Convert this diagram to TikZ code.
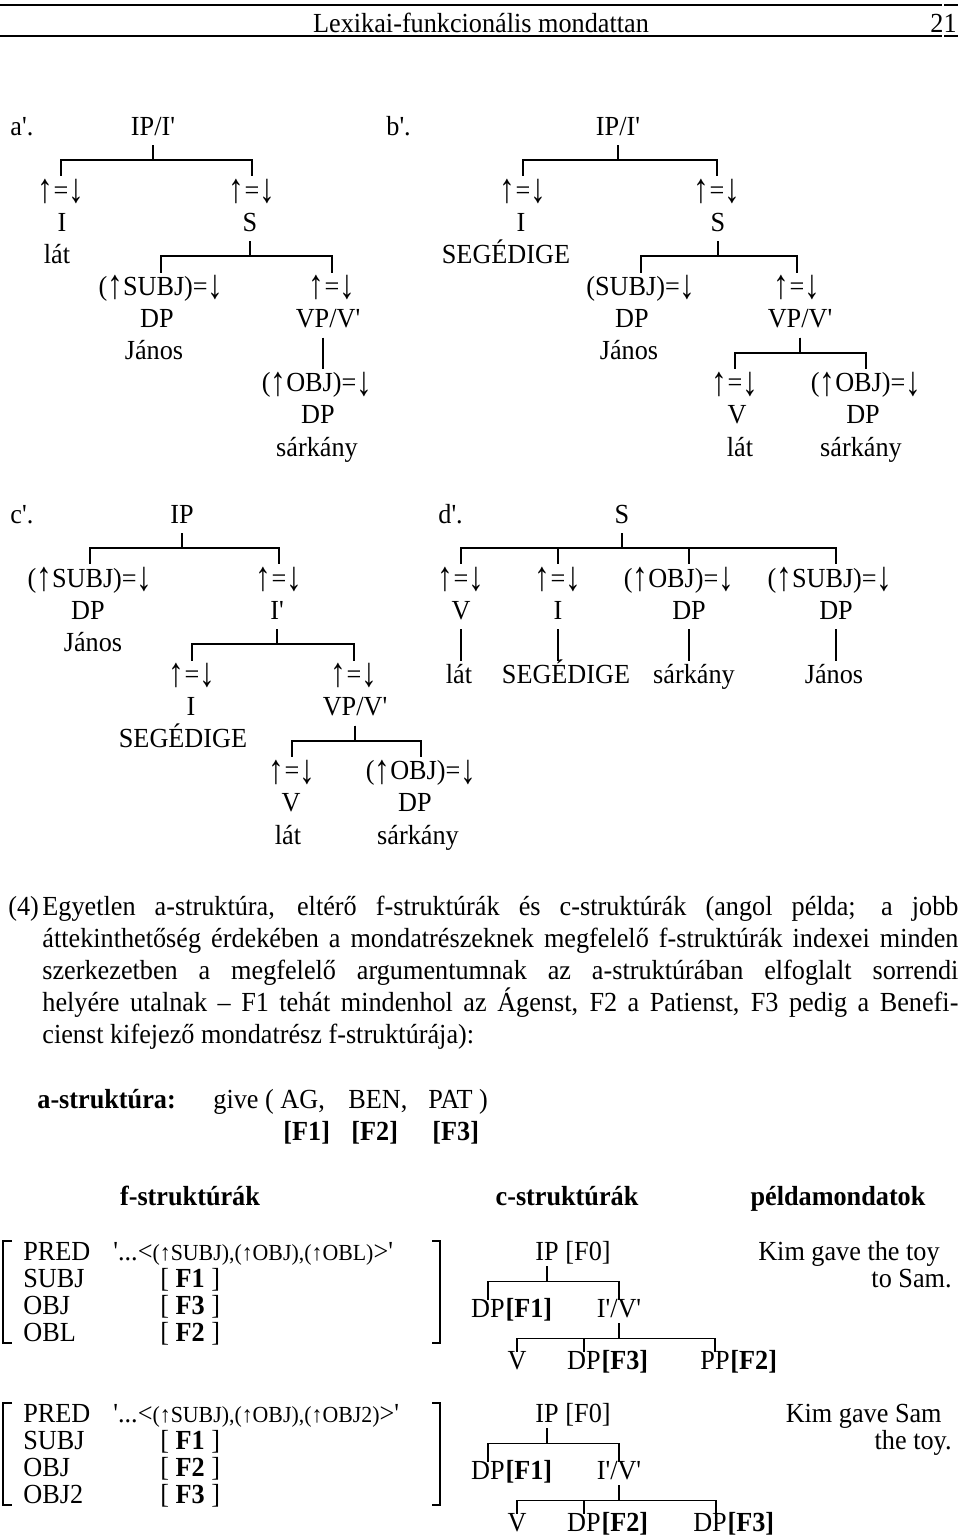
\documentclass[tikz,border=0pt]{standalone}
\usepackage{fontspec}
\usepackage{graphicx}
\setmainfont{Liberation Serif}[FakeStretch=0.95,Ligatures=TeXOff]
\usepackage{tikz}
\usetikzlibrary{positioning}
\AtBeginDocument{\fontsize{13.8pt}{16pt}\selectfont}
\tikzset{
  lbl/.style={anchor=base,inner sep=0pt},
  tnode/.style={anchor=base,inner sep=0pt,outer ysep=2pt,text height=9.5pt,text depth=3pt},
  cnode/.style={anchor=base,inner sep=0pt,text height=8.5pt,text depth=3pt},
  branch/.style={line width=0.9pt},
  bracket/.style={line width=0.7pt}
}
\newcommand\smallargs{\fontsize{11.5pt}{12pt}\selectfont}
\newcommand\ua{\raisebox{-0.12em}{\scalebox{1.2}[1.5]{↑}}}
\newcommand\da{\raisebox{-0.12em}{\scalebox{1.2}[1.5]{↓}}}

\begin{document}
\begin{tikzpicture}[x=0.5pt,y=-0.5pt]
\fill[white] (0,0) rectangle (960,1536);
\useasboundingbox (0,0) rectangle (960,1536);

\node[lbl] (title) at (481,33) {Lexikai-funkcionális mondattan};
\node[lbl,anchor=base east] (pageno) at (957,33) {21};
\draw[line width=0.75pt] (0,5) -- (942,5) (944,5) -- (958,5);
\draw[line width=1pt] (0,36.5) -- (942,36.5) (944,36.5) -- (958,36.5);

\node[lbl,anchor=base west] (aLab) at (10,135) {a'.};
\node[tnode] (aIP) at (153,135) {IP/I'};
\node[tnode] (aIeq) at (61,199.2) {\ua=\da};
\node[tnode] (aI) at (62,231.3) {I};
\node[tnode] (aIlex) at (57,263.4) {lát};
\node[tnode] (aSeq) at (252,199.2) {\ua=\da};
\node[tnode] (aS) at (250,231.3) {S};
\node[tnode] (aSubj) at (161,295.5) {(\ua SUBJ)=\da};
\node[tnode] (aDPs) at (157,327.6) {DP};
\node[tnode] (aDPslex) at (154,359.7) {János};
\node[tnode] (aVPeq) at (332,295.5) {\ua=\da};
\node[tnode] (aVP) at (328,327.6) {VP/V'};
\node[tnode] (aObj) at (317,391.8) {(\ua OBJ)=\da};
\node[tnode] (aDPo) at (318,423.9) {DP};
\node[tnode] (aDPolex) at (317,456) {sárkány};
\foreach \c in {aIeq,aSeq} \draw[branch] (aIP.south) -- ++(0,15) -| (\c.north);
\foreach \c in {aSubj,aVPeq} \draw[branch] (aS.south) -- ++(0,15) -| (\c.north);
\draw[branch] ([xshift=-2.5pt]aVP.south) -- ([xshift=-2.5pt]aVP.south |- aObj.north);

\node[lbl,anchor=base west] (bLab) at (386,135) {b'.};
\node[tnode] (bIP) at (618,135) {IP/I'};
\node[tnode] (bIeq) at (523,199.2) {\ua=\da};
\node[tnode] (bI) at (521,231.3) {I};
\node[tnode] (bIlex) at (506,263.4) {SEGÉDIGE};
\node[tnode] (bSeq) at (717,199.2) {\ua=\da};
\node[tnode] (bS) at (718,231.3) {S};
\node[tnode] (bSubj) at (641,295.5) {(SUBJ)=\da};
\node[tnode] (bDPs) at (632,327.6) {DP};
\node[tnode] (bDPslex) at (629,359.7) {János};
\node[tnode] (bVPeq) at (797,295.5) {\ua=\da};
\node[tnode] (bVP) at (800,327.6) {VP/V'};
\node[tnode] (bVeq) at (735,391.8) {\ua=\da};
\node[tnode] (bV) at (737,423.9) {V};
\node[tnode] (bVlex) at (740,456) {lát};
\node[tnode] (bObj) at (866,391.8) {(\ua OBJ)=\da};
\node[tnode] (bDPo) at (863,423.9) {DP};
\node[tnode] (bDPolex) at (861,456) {sárkány};
\foreach \c in {bIeq,bSeq} \draw[branch] (bIP.south) -- ++(0,15) -| (\c.north);
\foreach \c in {bSubj,bVPeq} \draw[branch] (bS.south) -- ++(0,15) -| (\c.north);
\foreach \c in {bVeq,bObj} \draw[branch] (bVP.south) -- ++(0,15) -| (\c.north);

\node[lbl,anchor=base west] (cLab) at (10,523) {c'.};
\node[tnode] (cIP) at (182,523) {IP};
\node[tnode] (cSubj) at (90,587.2) {(\ua SUBJ)=\da};
\node[tnode] (cDPs) at (88,619.3) {DP};
\node[tnode] (cDPslex) at (93,651.4) {János};
\node[tnode] (cIbareq) at (279,587.2) {\ua=\da};
\node[tnode] (cIbar) at (277,619.3) {I'};
\node[tnode] (cIeq) at (192,683.5) {\ua=\da};
\node[tnode] (cI) at (191,715.6) {I};
\node[tnode] (cIlex) at (183,747.7) {SEGÉDIGE};
\node[tnode] (cVPeq) at (354,683.5) {\ua=\da};
\node[tnode] (cVP) at (355,715.6) {VP/V'};
\node[tnode] (cVeq) at (292,779.8) {\ua=\da};
\node[tnode] (cV) at (291,811.9) {V};
\node[tnode] (cVlex) at (288,844) {lát};
\node[tnode] (cObj) at (421,779.8) {(\ua OBJ)=\da};
\node[tnode] (cDPo) at (415,811.9) {DP};
\node[tnode] (cDPolex) at (418,844) {sárkány};
\foreach \c in {cSubj,cIbareq} \draw[branch] (cIP.south) -- ++(0,15) -| (\c.north);
\foreach \c in {cIeq,cVPeq} \draw[branch] (cIbar.south) -- ++(0,15) -| (\c.north);
\foreach \c in {cVeq,cObj} \draw[branch] (cVP.south) -- ++(0,15) -| (\c.north);

\node[lbl,anchor=base west] (dLab) at (438,523) {d'.};
\node[tnode] (dS) at (622,523) {S};
\node[tnode] (dVeq) at (461,587.2) {\ua=\da};
\node[tnode] (dIeq) at (558,587.2) {\ua=\da};
\node[tnode] (dObj) at (679,587.2) {(\ua OBJ)=\da};
\node[tnode] (dSubj) at (830,587.2) {(\ua SUBJ)=\da};
\node[tnode] (dV) at (461,619.3) {V};
\node[tnode] (dI) at (558,619.3) {I};
\node[tnode] (dDPo) at (689,619.3) {DP};
\node[tnode] (dDPs) at (836,619.3) {DP};
\node[tnode] (dVlex) at (459,683.5) {lát};
\node[tnode] (dIlex) at (566,683.5) {SEGÉDIGE};
\node[tnode] (dDPolex) at (694,683.5) {sárkány};
\node[tnode] (dDPslex) at (834,683.5) {János};
\foreach \c/\d in {dVeq/dV,dIeq/dI,dObj/dDPo,dSubj/dDPs}
  \draw[branch] (dS.south) -- ++(0,15) -| (\d |- \c.north);
\foreach \d/\w in {dV/dVlex,dI/dIlex,dDPo/dDPolex,dDPs/dDPslex}
  \draw[branch] (\d.south) -- (\d.south |- \w.north);

\node[lbl,anchor=base west] (exNum) at (8,915) {(4)};
\node[lbl,anchor=base west] (parA) at (42,915)
  {\hbox to 458pt{Egyetlen a-struktúra, eltérő f-struktúrák és c-struktúrák (angol példa; a jobb}};
\node[lbl,anchor=base west] (parB) at (42,947)
  {\hbox to 458pt{áttekinthetőség érdekében a mondatrészeknek megfelelő f-struktúrák indexei minden}};
\node[lbl,anchor=base west] (parC) at (42,979)
  {\hbox to 458pt{szerkezetben a megfelelő argumentumnak az a-struktúrában elfoglalt sorrendi}};
\node[lbl,anchor=base west] (parD) at (42,1011)
  {\hbox to 458pt{helyére utalnak – F1 tehát mindenhol az Ágenst, F2 a Patienst, F3 pedig a Benefi-}};
\node[lbl,anchor=base west] (parE) at (42,1043) {cienst kifejező mondatrész f-struktúrája):};

\node[lbl,anchor=base west,font=\bfseries] (aStrLab) at (37,1108) {a-struktúra:};
\node[lbl,anchor=base west] (give) at (213,1108) {give (};
\node[lbl,anchor=base west] (argAg) at (280,1108) {AG,};
\node[lbl,anchor=base west] (argBen) at (348,1108) {BEN,};
\node[lbl,anchor=base west] (argPat) at (428,1108) {PAT )};
\node[lbl,anchor=base west,font=\bfseries] (fAg) at (283,1140) {[F1]};
\node[lbl,anchor=base west,font=\bfseries] (fBen) at (351,1140) {[F2]};
\node[lbl,anchor=base west,font=\bfseries] (fPat) at (432,1140) {[F3]};

\node[lbl,font=\bfseries] (hF) at (190,1205) {f-struktúrák};
\node[lbl,font=\bfseries] (hC) at (567,1205) {c-struktúrák};
\node[lbl,font=\bfseries] (hP) at (838,1205) {példamondatok};

\foreach \a/\y in {PRED/1260,SUBJ/1287,OBJ/1314,OBL/1341}
  \node[lbl,anchor=base west] (fa\a) at (23,\y) {\a};
\node[lbl,anchor=base west] (faPredVal) at (113,1260) {'...<{\smallargs(↑SUBJ),(↑OBJ),(↑OBL)}>'};
\node[lbl,anchor=base west] (faSubjVal) at (160,1287) {[ \textbf{F1} ]};
\node[lbl,anchor=base west] (faObjVal) at (160,1314) {[ \textbf{F3} ]};
\node[lbl,anchor=base west] (faOblVal) at (160,1341) {[ \textbf{F2} ]};
\draw[bracket] (12,1241) -| (3,1343) -- (12,1343);
\draw[bracket] (432,1241) -| (440,1343) -- (432,1343);

\foreach \a/\y in {PRED/1422,SUBJ/1449,OBJ/1476,OBJ2/1503}
  \node[lbl,anchor=base west] (fb\a) at (23,\y) {\a};
\node[lbl,anchor=base west] (fbPredVal) at (113,1422) {'...<{\smallargs(↑SUBJ),(↑OBJ),(↑OBJ2)}>'};
\node[lbl,anchor=base west] (fbSubjVal) at (160,1449) {[ \textbf{F1} ]};
\node[lbl,anchor=base west] (fbObjVal) at (160,1476) {[ \textbf{F2} ]};
\node[lbl,anchor=base west] (fbObjbVal) at (160,1503) {[ \textbf{F3} ]};
\draw[bracket] (12,1403) -| (3,1505) -- (12,1505);
\draw[bracket] (432,1403) -| (440,1505) -- (432,1505);

\node[cnode] (kaIP) at (547,1260) {IP};
\node[cnode,base right=3pt of kaIP] (kaIPf) {[F0]};
\node[cnode] (kaDP) at (488,1317) {DP};
\node[cnode,base right=0pt of kaDP,font=\bfseries] (kaDPf) {[F1]};
\node[cnode] (kaIV) at (619,1317) {I'/V'};
\node[cnode] (kaV) at (517,1369) {V};
\node[cnode] (kaDPb) at (584,1369) {DP};
\node[cnode,base right=0pt of kaDPb,font=\bfseries] (kaDPbf) {[F3]};
\node[cnode] (kaPP) at (715,1369) {PP};
\node[cnode,base right=0pt of kaPP,font=\bfseries] (kaPPf) {[F2]};
\foreach \c in {kaDP,kaIV} \draw[branch] (kaIP.south) -- ++(0,15) -| (\c.north);
\foreach \c in {kaV,kaDPb,kaPP} \draw[branch] (kaIV.south) -- ++(0,15) -| (\c.north);

\node[cnode] (kbIP) at (547,1422) {IP};
\node[cnode,base right=3pt of kbIP] (kbIPf) {[F0]};
\node[cnode] (kbDP) at (488,1479) {DP};
\node[cnode,base right=0pt of kbDP,font=\bfseries] (kbDPf) {[F1]};
\node[cnode] (kbIV) at (619,1479) {I'/V'};
\node[cnode] (kbV) at (517,1531) {V};
\node[cnode] (kbDPb) at (584,1531) {DP};
\node[cnode,base right=0pt of kbDPb,font=\bfseries] (kbDPbf) {[F2]};
\node[cnode] (kbDPc) at (710,1531) {DP};
\node[cnode,base right=0pt of kbDPc,font=\bfseries] (kbDPcf) {[F3]};
\foreach \c in {kbDP,kbIV} \draw[branch] (kbIP.south) -- ++(0,15) -| (\c.north);
\foreach \c in {kbV,kbDPb} \draw[branch] (kbIV.south) -- ++(0,15) -| (\c.north);
\draw[branch] (kbIV.south) -- ++(0,15) -| ([xshift=3pt]kbDPc.north);

\node[lbl,anchor=base east] (exA1) at (940,1260) {Kim gave the toy};
\node[lbl,anchor=base east] (exA2) at (952,1287) {to Sam.};
\node[lbl,anchor=base east] (exB1) at (942,1422) {Kim gave Sam};
\node[lbl,anchor=base east] (exB2) at (952,1449) {the toy.};
\end{tikzpicture}
\end{document}
